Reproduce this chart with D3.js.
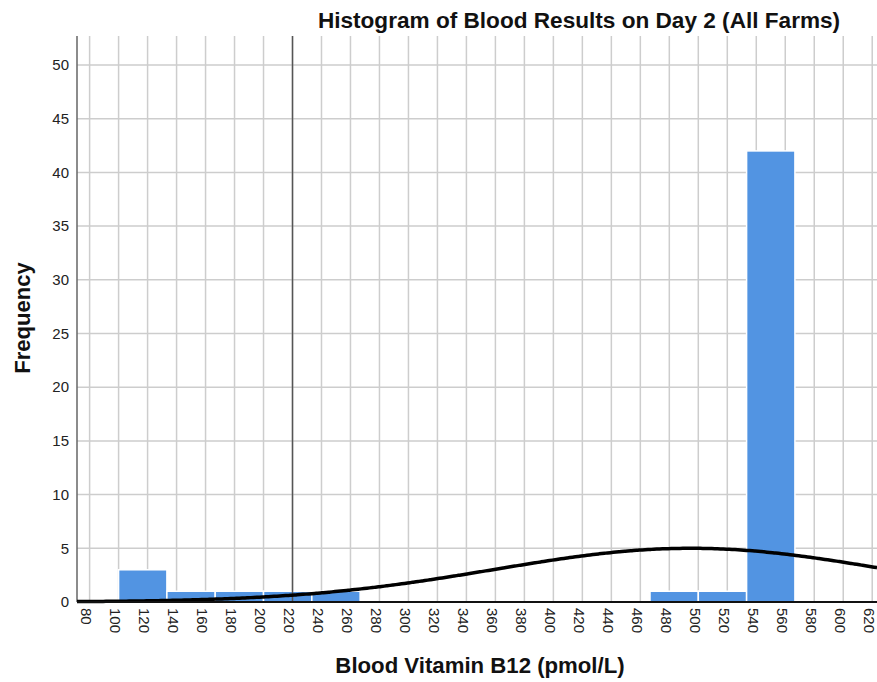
<!DOCTYPE html>
<html>
<head>
<meta charset="utf-8">
<script src="https://cdn.jsdelivr.net/npm/d3@7"></script>
<style>
  body { margin: 0; background: #fff; }
  text { font-family: "Liberation Sans", Arial, sans-serif; }
</style>
</head>
<body>
<svg id="chart" width="877" height="682"></svg>
<script>
// histogram bins (lower edge of each bin) and their counts
const binStarts = [100, 133.33, 166.67, 200, 233.33, 466.67, 500, 533.33];
const binCounts = [3, 1, 1, 1, 1, 1, 1, 42];
const binWidth = 33.33;

// tick values for the axes
const xTicks = [80, 100, 120, 140, 160, 180, 200, 220, 240, 260, 280, 300, 320, 340, 360,
    380, 400, 420, 440, 460, 480, 500, 520, 540, 560, 580, 600, 620];
const yTicks = [0, 5, 10, 15, 20, 25, 30, 35, 40, 45, 50];

// normal curve parameters
const curveMean = 495;
const curveSD = 135.6;
const curveN = 51;

// reference line position
const refLine = 220;

const svg = d3.select("#chart");

// plot area
const plotLeft = 77, plotRight = 877, plotTop = 36, plotBottom = 602;

const xscale = d3.scaleLinear()
    .domain([71.3, 623.3])
    .range([plotLeft, plotRight]);

const yscale = d3.scaleLinear()
    .domain([0, 52.7])
    .range([plotBottom, plotTop]);

// grid lines
let grid = svg.append("g");
grid.selectAll(".hgrid")
    .data(yTicks)
    .enter()
    .append("line")
    .attr("x1", plotLeft)
    .attr("x2", plotRight)
    .attr("y1", d => yscale(d))
    .attr("y2", d => yscale(d))
    .attr("stroke", "#cdcdcd")
    .attr("stroke-width", 1.5);

grid.selectAll(".vgrid")
    .data(xTicks)
    .enter()
    .append("line")
    .attr("x1", d => xscale(d))
    .attr("x2", d => xscale(d))
    .attr("y1", plotTop)
    .attr("y2", plotBottom)
    .attr("stroke", "#cdcdcd")
    .attr("stroke-width", 1.5);

// bars
svg.append("g")
    .selectAll("rect")
    .data(binStarts)
    .enter()
    .append("rect")
    .attr("x", d => xscale(d))
    .attr("y", (d, i) => yscale(binCounts[i]))
    .attr("width", xscale(binWidth) - xscale(0))
    .attr("height", (d, i) => yscale(0) - yscale(binCounts[i]))
    .attr("fill", "#5294e2")
    .attr("stroke", "#ffffff")
    .attr("stroke-width", 1.5);

// reference line
svg.append("line")
    .attr("x1", xscale(refLine))
    .attr("x2", xscale(refLine))
    .attr("y1", plotTop)
    .attr("y2", plotBottom)
    .attr("stroke", "#555")
    .attr("stroke-width", 1.5);

// left axis line
svg.append("line")
    .attr("x1", plotLeft)
    .attr("x2", plotLeft)
    .attr("y1", plotTop)
    .attr("y2", plotBottom)
    .attr("stroke", "#666")
    .attr("stroke-width", 1.5);

// normal curve
const curveX = d3.range(71.3, 623.4, 2);
const lineGenerator = d3.line()
    .x(d => xscale(d))
    .y(d => yscale(curveN * binWidth / (curveSD * Math.sqrt(2 * Math.PI)) *
        Math.exp(-Math.pow(d - curveMean, 2) / (2 * curveSD * curveSD))))
    .curve(d3.curveBasis);

svg.append("path")
    .datum(curveX)
    .attr("d", lineGenerator)
    .style("fill", "none")
    .style("stroke", "#000")
    .style("stroke-width", 3.5);

// bottom axis line
svg.append("line")
    .attr("x1", plotLeft)
    .attr("x2", plotRight)
    .attr("y1", plotBottom)
    .attr("y2", plotBottom)
    .attr("stroke", "#111")
    .attr("stroke-width", 2);

// y tick labels
svg.append("g")
    .selectAll("text")
    .data(yTicks)
    .enter()
    .append("text")
    .attr("x", 69)
    .attr("y", d => yscale(d))
    .attr("dy", "0.35em")
    .attr("text-anchor", "end")
    .attr("font-size", "15px")
    .attr("fill", "#222")
    .text(d => d);

// x tick labels, rotated
svg.append("g")
    .selectAll("text")
    .data(xTicks)
    .enter()
    .append("text")
    .attr("transform", d => `translate(${xscale(d) - 3}, 608) rotate(90)`)
    .attr("dy", "0.35em")
    .attr("text-anchor", "start")
    .attr("font-size", "15px")
    .attr("fill", "#222")
    .text(d => d);

// title and axis titles
svg.append("text")
    .attr("x", 579)
    .attr("y", 28)
    .attr("text-anchor", "middle")
    .attr("font-size", "22.6px")
    .attr("font-weight", "bold")
    .attr("fill", "#111")
    .text("Histogram of Blood Results on Day 2 (All Farms)");

svg.append("text")
    .attr("x", 480)
    .attr("y", 673)
    .attr("text-anchor", "middle")
    .attr("font-size", "22.2px")
    .attr("font-weight", "bold")
    .attr("fill", "#111")
    .text("Blood Vitamin B12 (pmol/L)");

svg.append("text")
    .attr("transform", "translate(30, 318) rotate(-90)")
    .attr("text-anchor", "middle")
    .attr("font-size", "22px")
    .attr("font-weight", "bold")
    .attr("fill", "#111")
    .text("Frequency");
</script>
</body>
</html>
